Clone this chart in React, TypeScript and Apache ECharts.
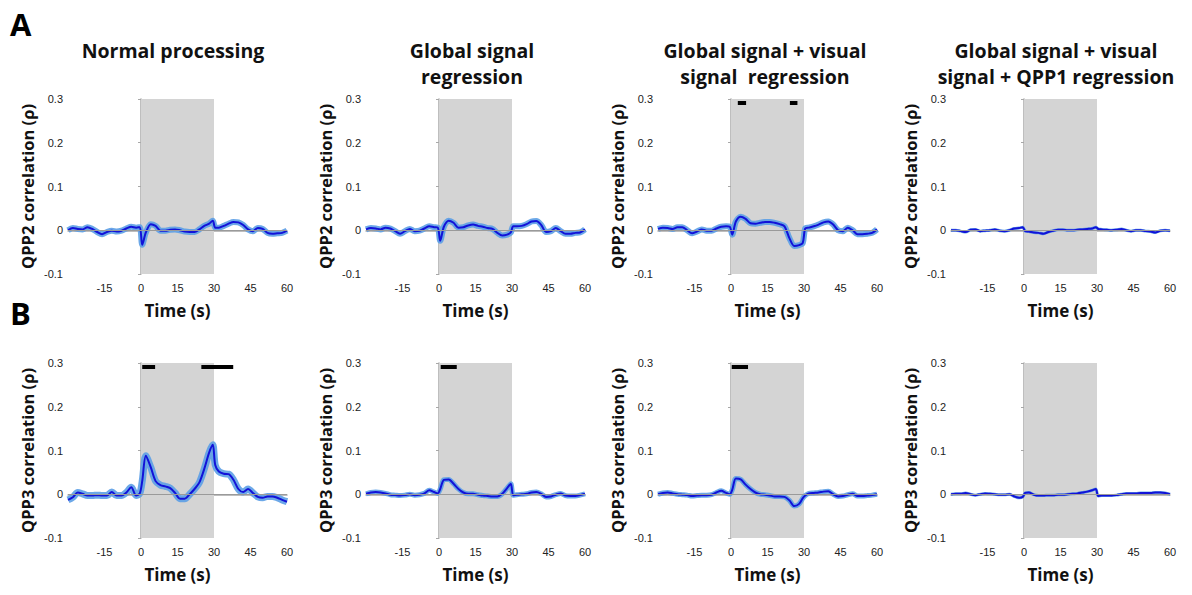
import React, { useEffect, useRef } from "react";
import * as echarts from "echarts";

// Shared time samples (s)
const T = [-30,-28,-26,-24,-22,-20,-18,-16,-14,-12,-10,-8,-6,-4,-2,-0.5,0.5,2,4,6,8,10,12,14,16,18,20,22,24,26,28,29.5,30.5,32,34,36,38,40,42,44,46,48,50,52,54,56,58,60];

// Row A: QPP2 correlation
const A1 = [0,0.005,0.003,0.002,0.007,0.003,-0.004,-0.009,-0.004,-0.001,-0.003,-0.001,0.004,0.008,0.006,0.007,-0.033,-0.005,0.014,0.01,-0.001,-0.001,0.001,0.002,0,-0.003,-0.004,-0.004,0.002,0.01,0.015,0.022,0.006,0.006,0.01,0.015,0.019,0.018,0.012,0.002,-0.002,0.005,0.003,-0.006,-0.008,-0.007,-0.006,-0.001];
const A2 = [0.002,0.005,0.004,0.002,0.006,0.004,-0.002,-0.008,-0.002,0.003,-0.002,-0.001,0.004,0.009,0.007,0.006,-0.024,0.008,0.022,0.017,0.006,0.007,0.011,0.013,0.01,0.008,0.005,0.003,-0.006,-0.012,-0.01,-0.005,0.009,0.009,0.01,0.014,0.02,0.021,0.012,-0.004,-0.002,0.005,-0.002,-0.008,-0.008,-0.006,-0.005,0.002];
const A3 = [0.003,0.006,0.005,0.003,0.007,0.007,0,-0.007,-0.003,0.002,-0.001,-0.001,0.004,0.008,0.009,0.008,-0.01,0.02,0.031,0.026,0.016,0.015,0.017,0.019,0.019,0.017,0.014,0.009,-0.018,-0.036,-0.034,-0.029,0.004,0.006,0.009,0.013,0.018,0.02,0.013,0,-0.002,0.006,0,-0.009,-0.009,-0.008,-0.006,0.002];
const A4 = [0,0,-0.002,-0.004,0.001,0.002,-0.002,-0.001,0,0.002,-0.001,-0.002,0,0.004,0.005,0.007,-0.002,-0.003,-0.005,-0.006,-0.008,-0.004,-0.001,0.001,0.001,0,0,0.001,0.002,0.003,0.004,0.007,0.003,0.002,0.001,0,0.001,0.003,0,-0.002,0,0,-0.002,-0.003,-0.005,-0.001,0,-0.001];

// Row B: QPP3 correlation
const B1 = [-0.013,-0.007,0.004,0.001,-0.003,-0.003,-0.002,-0.003,-0.003,0.005,-0.003,-0.003,0.004,0.016,-0.003,0.002,0.03,0.088,0.062,0.03,0.021,0.018,0.014,0.003,-0.01,-0.01,0,0.012,0.027,0.058,0.095,0.113,0.067,0.052,0.047,0.046,0.033,0.012,0.005,0.012,0.003,-0.006,-0.008,-0.005,-0.005,-0.008,-0.013,-0.017];
const B2 = [0.001,0.004,0.005,0.004,0.002,-0.001,-0.002,-0.003,-0.002,0,-0.002,-0.001,0.002,0.009,0.005,0.002,0.012,0.033,0.034,0.024,0.012,0.004,0.001,0.001,-0.001,-0.003,-0.004,-0.005,-0.005,0.001,0.014,0.024,-0.002,-0.001,0,0.001,0.004,0.005,0.001,-0.006,-0.005,-0.001,0.002,-0.003,-0.004,-0.004,-0.002,0.001];
const B3 = [0,0.003,0.004,0.002,0,-0.001,-0.002,-0.004,-0.003,-0.002,-0.002,-0.001,0.004,0.008,0.003,0,0.01,0.036,0.034,0.022,0.012,0.004,0,-0.001,-0.003,-0.005,-0.005,-0.006,-0.014,-0.027,-0.022,-0.009,-0.003,0.002,0.003,0.004,0.006,0.007,0,-0.005,-0.004,-0.001,0.001,-0.004,-0.004,-0.003,-0.002,0];
const B4 = [0,0.001,0.001,0.003,0,-0.002,0,0.002,0.001,0,-0.001,-0.001,0,-0.005,-0.008,-0.006,0.003,0.004,-0.001,-0.003,-0.003,-0.002,-0.002,-0.001,-0.001,0,0.001,0.002,0.004,0.006,0.009,0.012,-0.004,-0.003,-0.003,-0.003,-0.002,0,0.002,0.002,0.002,0.003,0.003,0.003,0.004,0.004,0.003,0];

// Significance bars [start, end] (s)
const SIG_A3 = [[2.8, 6.2], [24.2, 27.3]];
const SIG_B1 = [[0.5, 5.8], [24.8, 37.9]];
const SIG_B2 = [[0.7, 7.3]];
const SIG_B3 = [[0.3, 7.0]];
const SIG_Y = 0.292;

// Stimulus block (s)
const BLOCK = [0, 30];

const TITLES = [
  "Normal processing",
  "Global signal\nregression",
  "Global signal + visual\nsignal  regression",
  "Global signal + visual\nsignal + QPP1 regression",
];
const ROW_LABELS = ["A", "B"];
const Y_NAMES = ["QPP2 correlation (ρ)", "QPP3 correlation (ρ)"];
const X_NAME = "Time (s)";

const PANELS = [
  { row: 0, col: 0, data: A1, sig: [] as number[][], band: 6 },
  { row: 0, col: 1, data: A2, sig: [] as number[][], band: 6 },
  { row: 0, col: 2, data: A3, sig: SIG_A3, band: 6 },
  { row: 0, col: 3, data: A4, sig: [] as number[][], band: 3 },
  { row: 1, col: 0, data: B1, sig: SIG_B1, band: 7 },
  { row: 1, col: 1, data: B2, sig: SIG_B2, band: 5 },
  { row: 1, col: 2, data: B3, sig: SIG_B3, band: 5 },
  { row: 1, col: 3, data: B4, sig: [] as number[][], band: 3 },
];

const GRID_LEFT = [68, 366, 658, 951];
const GRID_TOP = [99, 363];
const GRID_W = 219;
const GRID_H = 175;
const TITLE_X = [173, 472, 765, 1056];

const LABEL_FONT = "'Liberation Sans', Arial, sans-serif";
const BOLD_FONT = "'Open Sans', 'Noto Sans', sans-serif";

export default function App() {
  const ref = useRef<HTMLDivElement>(null);

  useEffect(() => {
    if (!ref.current) return;
    const chart = echarts.init(ref.current, null, { renderer: "svg" });

    const grid: any[] = [];
    const xAxis: any[] = [];
    const yAxis: any[] = [];
    const series: any[] = [];

    PANELS.forEach((p, i) => {
      grid.push({
        left: GRID_LEFT[p.col],
        top: GRID_TOP[p.row],
        width: GRID_W,
        height: GRID_H,
      });
      xAxis.push({
        type: "value",
        gridIndex: i,
        min: -30,
        max: 60,
        interval: 15,
        name: X_NAME,
        nameLocation: "middle",
        nameGap: 28,
        nameTextStyle: { fontFamily: BOLD_FONT, fontWeight: "bold", fontSize: 17, color: "#111" },
        axisLine: { lineStyle: { color: "#a8a8a8", width: 1.5 } },
        axisTick: { show: false },
        splitLine: { show: false },
        axisLabel: {
          fontFamily: LABEL_FONT,
          fontSize: 11,
          color: "#222",
          margin: 8,
          formatter: (v: number) => (v === -30 ? "" : String(v)),
        },
      });
      yAxis.push({
        type: "value",
        gridIndex: i,
        min: -0.1,
        max: 0.3,
        interval: 0.1,
        name: Y_NAMES[p.row],
        nameLocation: "middle",
        nameGap: 32,
        nameRotate: 90,
        nameTextStyle: { fontFamily: BOLD_FONT, fontWeight: "bold", fontSize: 16.5, color: "#111" },
        axisLine: { show: true, lineStyle: { color: "#a8a8a8", width: 1.5 } },
        axisTick: { show: true, length: 3, lineStyle: { color: "#a8a8a8" } },
        splitLine: { show: false },
        axisLabel: {
          fontFamily: LABEL_FONT,
          fontSize: 11,
          color: "#222",
          margin: 5,
          formatter: (v: number) => (Math.abs(v) < 1e-9 ? "0" : v.toFixed(1)),
        },
      });
      const pts = T.map((t, k) => [t, p.data[k]]);
      // background: stimulus block + zero line
      series.push({
        type: "line",
        xAxisIndex: i,
        yAxisIndex: i,
        data: [],
        silent: true,
        z: 1,
        markArea: {
          silent: true,
          itemStyle: { color: "#d4d4d4" },
          data: [[{ xAxis: BLOCK[0] }, { xAxis: BLOCK[1] }]],
        },
        markLine: {
          silent: true,
          symbol: "none",
          label: { show: false },
          lineStyle: { color: "#9a9a9a", width: 1, type: "solid" },
          data: [{ yAxis: 0 }],
        },
      });
      // error band (light blue)
      series.push({
        type: "line",
        xAxisIndex: i,
        yAxisIndex: i,
        data: pts,
        symbol: "none",
        smooth: 0.3,
        silent: true,
        z: 3,
        lineStyle: { color: "#5c9ee6", width: p.band, opacity: 0.9 },
      });
      // mean line
      series.push({
        type: "line",
        xAxisIndex: i,
        yAxisIndex: i,
        data: pts,
        symbol: "none",
        smooth: 0.3,
        silent: true,
        z: 4,
        lineStyle: { color: "#1212d8", width: 2 },
      });
      if (p.sig.length) {
        series.push({
          type: "line",
          xAxisIndex: i,
          yAxisIndex: i,
          data: [],
          silent: true,
          z: 5,
          markLine: {
            silent: true,
            symbol: "none",
            label: { show: false },
            lineStyle: { color: "#000", width: 4, type: "solid" },
            data: p.sig.map((s) => [{ coord: [s[0], SIG_Y] }, { coord: [s[1], SIG_Y] }]),
          },
        });
      }
    });

    const graphic: any[] = [];
    TITLES.forEach((t, c) => {
      graphic.push({
        type: "text",
        x: TITLE_X[c],
        y: 37,
        style: {
          text: t,
          align: "center",
          verticalAlign: "top",
          fontFamily: BOLD_FONT,
          fontWeight: "bold",
          fontSize: 19.5,
          lineHeight: 26,
          fill: "#111",
        },
      });
    });
    ROW_LABELS.forEach((t, r) => {
      graphic.push({
        type: "text",
        x: 10,
        y: r === 0 ? 8 : 297,
        style: {
          text: t,
          fontFamily: BOLD_FONT,
          fontWeight: "bold",
          fontSize: 31,
          fill: "#000",
          verticalAlign: "top",
        },
      });
    });

    chart.setOption({
      animation: false,
      backgroundColor: "#fff",
      grid,
      xAxis,
      yAxis,
      series,
      graphic,
    });

    return () => chart.dispose();
  }, []);

  return (
    <div
      ref={ref}
      style={{ position: "fixed", left: 0, top: 0, width: 1192, height: 595 }}
    />
  );
}
